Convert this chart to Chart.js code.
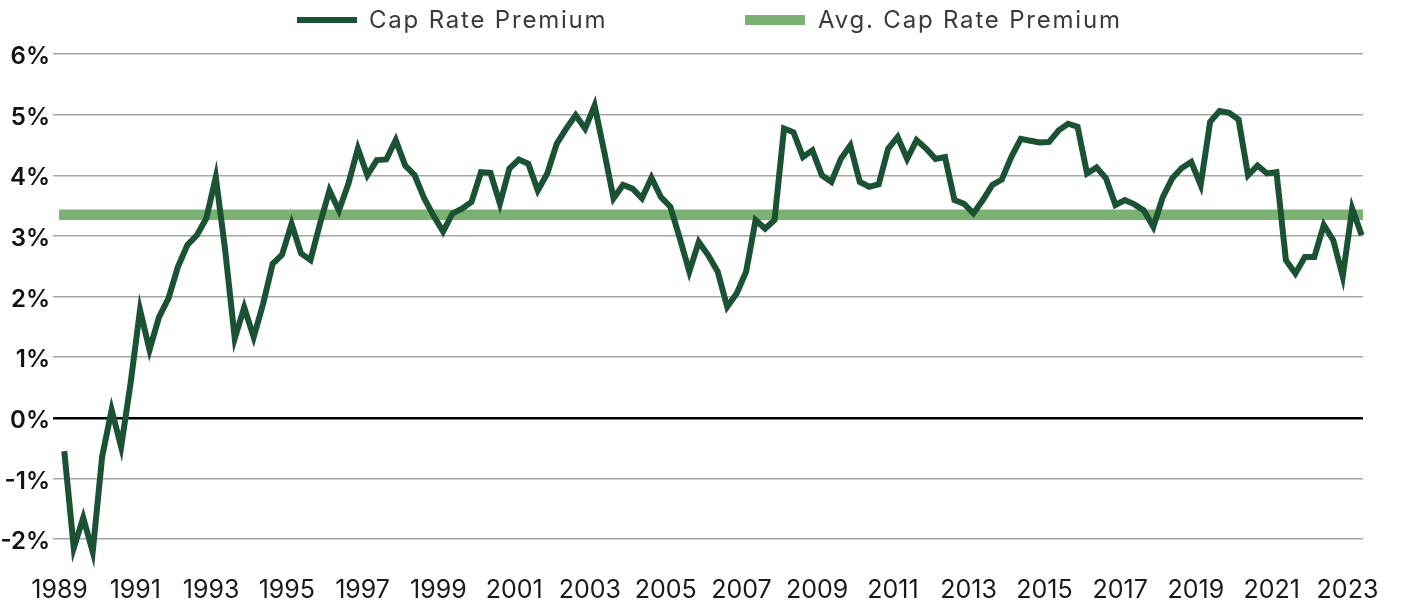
<!DOCTYPE html>
<html>
<head>
<meta charset="utf-8">
<script src="https://cdn.jsdelivr.net/npm/chart.js@4.4.1/dist/chart.umd.min.js"></script>
<style>
  html, body { margin: 0; padding: 0; background: #fff; }
  #wrap { position: relative; width: 1402px; height: 605px; }
  #chart { display: block; }
  .swatch { position: absolute; }
  .label { position: absolute; top: 0; line-height: 40px; font-family: Inter, sans-serif; font-size: 24px; color: #3a3a3a; letter-spacing: 1.8px; white-space: nowrap; }
</style>
</head>
<body>
<div id="wrap">
  <canvas id="chart" width="1402" height="605" style="width:1402px;height:605px"></canvas>
  <div id="legend"></div>
</div>
<script>
// quarterly, 1989 Q1 .. 2023 Q2
var firstYear = 1989;
var seriesName = "Cap Rate Premium";
var avgName = "Avg. Cap Rate Premium";
var capRatePremium = [
  -0.55, -2.15, -1.65, -2.21, -0.64, 0.13, -0.48, 0.57, 1.78, 1.12,
  1.66, 1.97, 2.49, 2.85, 3.01, 3.29, 3.97, 2.75, 1.31, 1.82,
  1.33, 1.88, 2.54, 2.69, 3.2, 2.71, 2.6, 3.2, 3.75, 3.42,
  3.86, 4.44, 4.0, 4.25, 4.26, 4.58, 4.16, 4.0, 3.62, 3.33,
  3.07, 3.37, 3.45, 3.56, 4.05, 4.04, 3.53, 4.11, 4.26, 4.19,
  3.75, 4.03, 4.52, 4.77, 4.99, 4.77, 5.15, 4.4, 3.62, 3.84,
  3.78, 3.62, 3.96, 3.64, 3.48, 2.96, 2.41, 2.9, 2.68, 2.41,
  1.83, 2.05, 2.41, 3.26, 3.12, 3.26, 4.77, 4.71, 4.3, 4.41,
  4.0, 3.89, 4.27, 4.49, 3.89, 3.81, 3.85, 4.44, 4.63, 4.27,
  4.58, 4.44, 4.27, 4.3, 3.59, 3.53, 3.37, 3.59, 3.84, 3.93,
  4.3, 4.6, 4.57, 4.54, 4.55, 4.74, 4.85, 4.8, 4.03, 4.13,
  3.95, 3.51, 3.59, 3.52, 3.42, 3.15, 3.64, 3.95, 4.12, 4.22,
  3.84, 4.88, 5.06, 5.03, 4.92, 4.0, 4.16, 4.03, 4.05, 2.6,
  2.38, 2.65, 2.65, 3.18, 2.93, 2.33, 3.45, 3.01
];
var avgCapRatePremium = 3.35;
var tickYears = [1989, 1991, 1993, 1995, 1997, 1999, 2001, 2003, 2005, 2007, 2009, 2011, 2013, 2015, 2017, 2019, 2021, 2023];
var yTicks = [-2, -1, 0, 1, 2, 3, 4, 5, 6];

var lineColor = '#1c5234';
var avgColor = '#7bb274';

// each quarter sits at its midpoint on a year scale
var linePoints = capRatePremium.map(function (v, i) {
  return { x: firstYear + (i + 0.5) / 4, y: v };
});
var avgPoints = [
  { x: linePoints[0].x, y: avgCapRatePremium },
  { x: linePoints[linePoints.length - 1].x, y: avgCapRatePremium }
];

var config = {
  type: 'line',
  data: {
    datasets: [{
      label: seriesName,
      data: linePoints,
      borderColor: lineColor,
      borderWidth: 6,
      pointRadius: 0,
      tension: 0,
      clip: false
    }, {
      label: avgName,
      data: avgPoints,
      borderColor: avgColor,
      borderWidth: 10.5,
      borderCapStyle: 'square',
      pointRadius: 0,
      clip: 0
    }]
  },
  options: {
    responsive: false,
    animation: false,
    events: [],
    layout: { padding: { left: 0, right: 39, top: 54, bottom: 0 } },
    plugins: { legend: { display: false }, tooltip: { enabled: false } },
    scales: {
      x: {
        type: 'linear',
        min: 1988.827,
        max: 2023.41,
        afterBuildTicks: function (s) {
          s.ticks = tickYears.map(function (y) { return { value: y }; });
        },
        afterFit: function (s) {
          s.height = 66;
          s.paddingLeft = 0;
          s.paddingRight = 0;
        },
        grid: { display: false, drawTicks: false },
        border: { display: false },
        ticks: {
          padding: 36,
          color: '#1a1a1a',
          font: { family: 'Inter', size: 25 },
          maxRotation: 0,
          autoSkip: false,
          callback: function (v) { return String(v); }
        }
      },
      y: {
        min: yTicks[0],
        max: yTicks[yTicks.length - 1],
        afterBuildTicks: function (s) {
          s.ticks = yTicks.map(function (v) { return { value: v }; });
        },
        afterFit: function (s) {
          s.width = 53;
          s.paddingTop = 0;
          s.paddingBottom = 0;
        },
        border: { display: false },
        grid: {
          drawTicks: false,
          color: function (c) { return c.tick && c.tick.value === 0 ? '#000000' : '#a6a6a6'; },
          lineWidth: function (c) { return c.tick && c.tick.value === 0 ? 2.5 : 1.4; }
        },
        ticks: {
          padding: 3,
          labelOffset: 3,
          color: '#111111',
          font: { family: 'Inter', size: 24, weight: '600' },
          callback: function (v) { return v + '%'; }
        }
      }
    }
  }
};

// legend drawn as html text above the canvas
var legendItems = [
  { text: seriesName, color: lineColor, swatchLeft: 297, textLeft: 369, thick: 6 },
  { text: avgName, color: avgColor, swatchLeft: 745, textLeft: 818, thick: 10 }
];
var legend = document.getElementById('legend');
legendItems.forEach(function (it) {
  var sw = document.createElement('span');
  sw.className = 'swatch';
  sw.style.left = it.swatchLeft + 'px';
  sw.style.top = (20 - it.thick / 2) + 'px';
  sw.style.width = '60px';
  sw.style.height = it.thick + 'px';
  sw.style.background = it.color;
  legend.appendChild(sw);
  var tx = document.createElement('span');
  tx.className = 'label';
  tx.style.left = it.textLeft + 'px';
  tx.textContent = it.text;
  legend.appendChild(tx);
});

window.onload = function () {
  var ctx = document.getElementById('chart').getContext('2d');
  window.myChart = new Chart(ctx, config);
};
</script>
</body>
</html>
